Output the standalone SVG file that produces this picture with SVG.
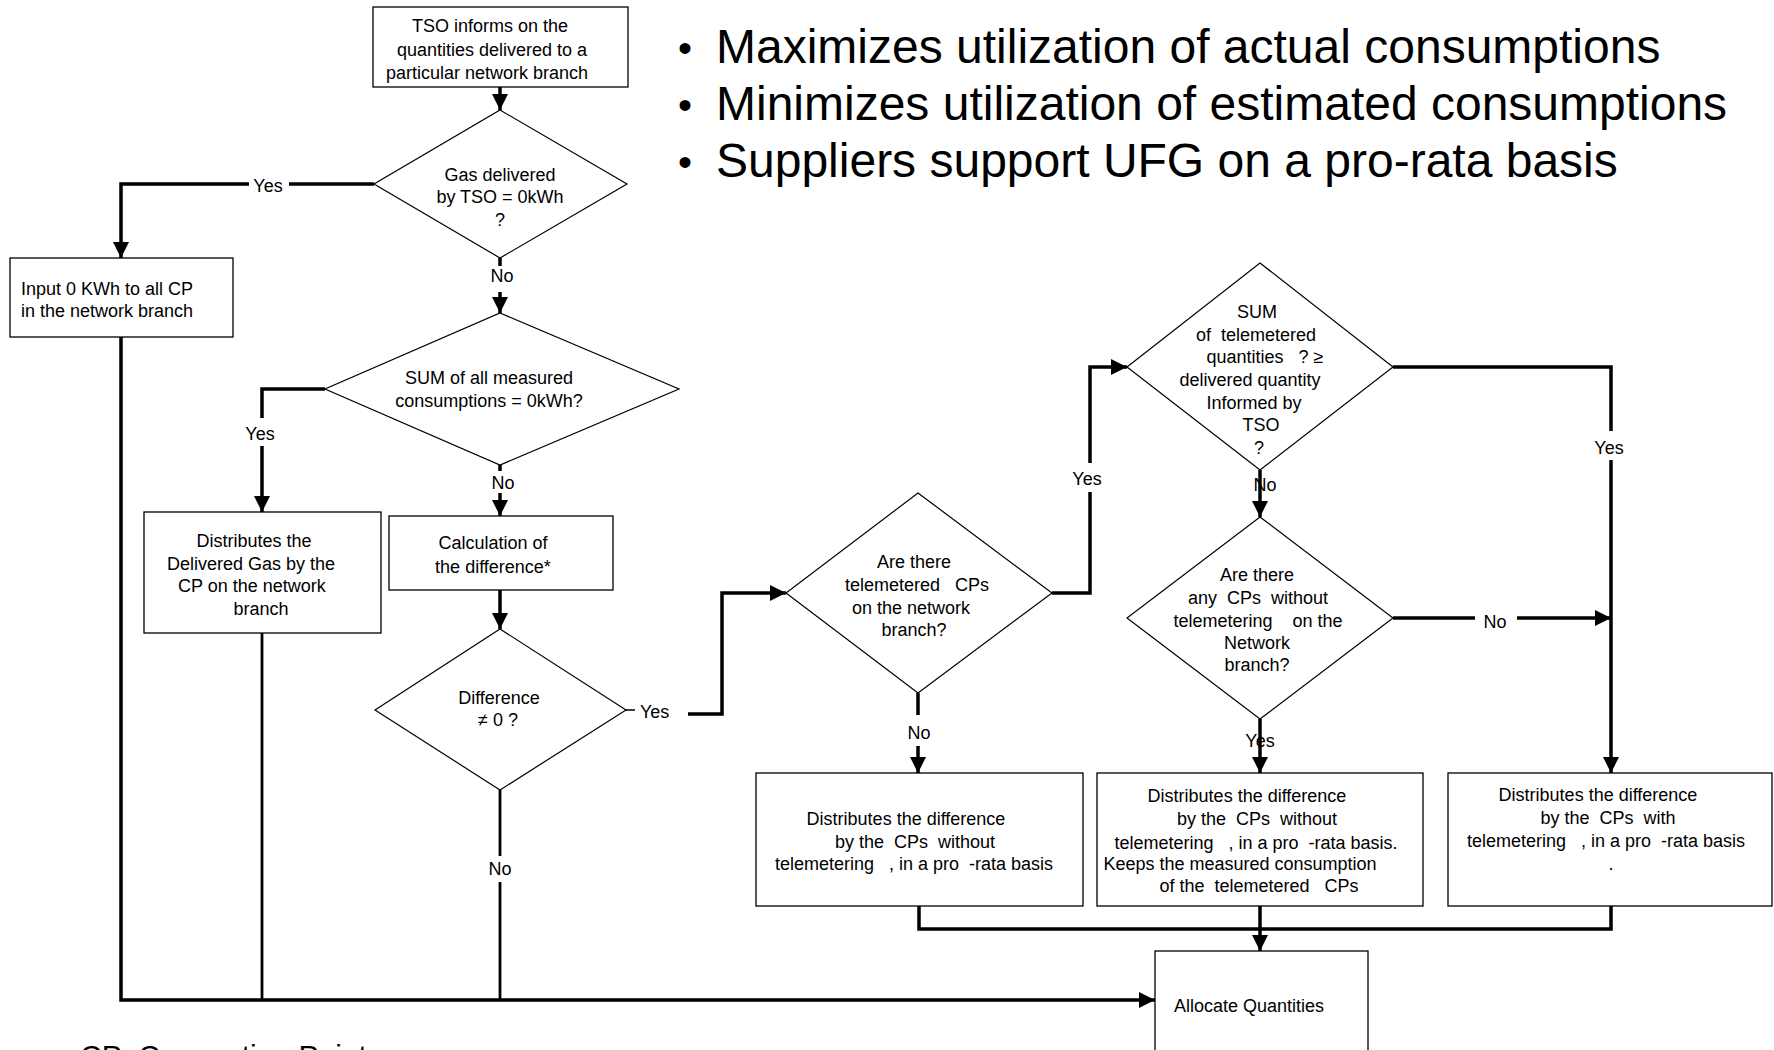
<svg xmlns="http://www.w3.org/2000/svg" width="1774" height="1050" viewBox="0 0 1774 1050">
<defs>
<style>
.box{fill:#fff;stroke:#000;stroke-width:1.3}
.dia{fill:#fff;stroke:#000;stroke-width:1.2}
.t{font-family:"Liberation Sans",Arial,sans-serif;font-size:18px;fill:#000;white-space:pre;text-anchor:middle}
.s{text-anchor:start}
.big{font-family:"Liberation Sans",Arial,sans-serif;font-size:48px;fill:#000}
.c{fill:none;stroke:#000;stroke-width:3.5}
.m{fill:none;stroke:#000;stroke-width:2.8}
.thin{fill:none;stroke:#000;stroke-width:1.5}
</style>
<marker id="ah" viewBox="0 0 16 16" refX="16" refY="8" markerWidth="16" markerHeight="16" markerUnits="userSpaceOnUse" orient="auto"><path d="M0,0 L16,8 L0,16 z" fill="#000"/></marker>
</defs>
<rect width="1774" height="1050" fill="#fff"/>

<g id="connectors">
<path class="c" d="M500,87 V110" marker-end="url(#ah)"/>
<path class="c" d="M374,184 H289"/>
<path class="c" d="M249,184 H121 V258" marker-end="url(#ah)"/>
<path class="c" d="M500,258 V266"/>
<path class="c" d="M500,292 V313" marker-end="url(#ah)"/>
<path class="c" d="M121,337 V1000 H1155" marker-end="url(#ah)"/>
<path class="c" d="M325,389 H262 V418"/>
<path class="c" d="M262,446 V512" marker-end="url(#ah)"/>
<path class="c" d="M500,465 V471"/>
<path class="c" d="M500,493 V516" marker-end="url(#ah)"/>
<path class="m" d="M262,633 V1000"/>
<path class="c" d="M500,590 V629" marker-end="url(#ah)"/>
<path class="thin" d="M626,710 H635"/>
<path class="c" d="M688,714 H722 V593 H786" marker-end="url(#ah)"/>
<path class="m" d="M500,790 V856"/>
<path class="m" d="M500,882 V1000"/>
<path class="c" d="M1052,593 H1090 V492"/>
<path class="c" d="M1090,463 V367 H1127" marker-end="url(#ah)"/>
<path class="c" d="M918,693 V715"/>
<path class="c" d="M918,746 V773" marker-end="url(#ah)"/>
<path class="c" d="M1260,470 V517" marker-end="url(#ah)"/>
<path class="c" d="M1393,367 H1611 V431"/>
<path class="c" d="M1611,460 V773" marker-end="url(#ah)"/>
<path class="c" d="M1393,618 H1475"/>
<path class="c" d="M1517,618 H1611" marker-end="url(#ah)"/>
<path class="c" d="M1260,719 V773" marker-end="url(#ah)"/>
<path class="c" d="M919,906 V929 H1611 V906"/>
<path class="c" d="M1260,906 V951" marker-end="url(#ah)"/>
<text class="t" x="268" y="192">Yes</text>
<text class="t" x="502" y="282">No</text>
<text class="t" x="260" y="440">Yes</text>
<text class="t" x="503" y="489">No</text>
<text class="t s" x="640" y="718">Yes</text>
<text class="t" x="500" y="875">No</text>
<text class="t" x="1087" y="485">Yes</text>
<text class="t" x="919" y="739">No</text>
<text class="t" x="1265" y="491">No</text>
<text class="t" x="1609" y="454">Yes</text>
<text class="t" x="1495" y="628">No</text>
<text class="t" x="1260" y="747">Yes</text>
</g>

<g id="n-tso">
<rect class="box" x="373" y="7" width="255" height="80"/>
<text class="t" x="490" y="32">TSO informs on the</text>
<text class="t" x="492" y="56">quantities delivered to a</text>
<text class="t" x="487" y="79">particular network branch</text>
</g>

<g id="n-gas">
<polygon class="dia" points="500,110 627,184 500,258 374,184"/>
<text class="t" x="500" y="181">Gas delivered</text>
<text class="t" x="500" y="203">by TSO = 0kWh</text>
<text class="t" x="500" y="226">?</text>
</g>

<g id="n-input">
<rect class="box" x="10" y="258" width="223" height="79"/>
<text class="t s" x="21" y="295">Input 0 KWh to all CP</text>
<text class="t s" x="21" y="317">in the network branch</text>
</g>

<g id="n-sum">
<polygon class="dia" points="500,313 679,389 500,465 325,389"/>
<text class="t" x="489" y="384">SUM of all measured</text>
<text class="t" x="489" y="407">consumptions = 0kWh?</text>
</g>

<g id="n-distgas">
<rect class="box" x="144" y="512" width="237" height="121"/>
<text class="t" x="254" y="547">Distributes the</text>
<text class="t" x="251" y="570">Delivered Gas by the</text>
<text class="t" x="252" y="592">CP on the network</text>
<text class="t" x="261" y="615">branch</text>
</g>

<g id="n-calc">
<rect class="box" x="389" y="516" width="224" height="74"/>
<text class="t" x="493" y="549">Calculation of</text>
<text class="t" x="493" y="573">the difference*</text>
</g>

<g id="n-diff">
<polygon class="dia" points="500,629 626,710 500,790 375,710"/>
<text class="t" x="499" y="704">Difference</text>
<text class="t" x="498" y="726">≠ 0 ?</text>
</g>

<g id="n-telem">
<polygon class="dia" points="918,493 1052,593 918,693 786,593"/>
<text class="t" x="914" y="568">Are there</text>
<text class="t" x="917" y="591">telemetered   CPs</text>
<text class="t" x="911" y="614">on the network</text>
<text class="t" x="914" y="636">branch?</text>
</g>

<g id="n-sum2">
<polygon class="dia" points="1260,263 1393,367 1260,470 1127,367"/>
<text class="t" x="1257" y="318">SUM</text>
<text class="t" x="1256" y="341">of  telemetered</text>
<text class="t" x="1265" y="363">quantities   ? ≥</text>
<text class="t" x="1250" y="386">delivered quantity</text>
<text class="t" x="1254" y="409">Informed by</text>
<text class="t" x="1261" y="431">TSO</text>
<text class="t" x="1259" y="454">?</text>
</g>

<g id="n-without">
<polygon class="dia" points="1260,517 1393,618 1260,719 1127,618"/>
<text class="t" x="1257" y="581">Are there</text>
<text class="t" x="1258" y="604">any  CPs  without</text>
<text class="t" x="1258" y="627">telemetering    on the</text>
<text class="t" x="1257" y="649">Network</text>
<text class="t" x="1257" y="671">branch?</text>
</g>

<g id="n-boxa">
<rect class="box" x="756" y="773" width="327" height="133"/>
<text class="t" x="906" y="825">Distributes the difference</text>
<text class="t" x="915" y="848">by the  CPs  without</text>
<text class="t" x="914" y="870">telemetering   , in a pro  -rata basis</text>
</g>

<g id="n-boxb">
<rect class="box" x="1097" y="773" width="326" height="133"/>
<text class="t" x="1247" y="802">Distributes the difference</text>
<text class="t" x="1257" y="825">by the  CPs  without</text>
<text class="t" x="1256" y="849">telemetering   , in a pro  -rata basis.</text>
<text class="t" x="1240" y="870">Keeps the measured consumption</text>
<text class="t" x="1259" y="892">of the  telemetered   CPs</text>
</g>

<g id="n-boxc">
<rect class="box" x="1448" y="773" width="324" height="133"/>
<text class="t" x="1598" y="801">Distributes the difference</text>
<text class="t" x="1608" y="824">by the  CPs  with</text>
<text class="t" x="1606" y="847">telemetering   , in a pro  -rata basis</text>
<text class="t" x="1611" y="870">.</text>
</g>

<g id="n-allocate">
<rect class="box" x="1155" y="951" width="213" height="110"/>
<text class="t s" x="1174" y="1012">Allocate Quantities</text>
</g>

<g id="bullets">
<text class="big" x="685" y="62" font-size="40" text-anchor="middle" style="font-size:40px">•</text>
<text class="big" x="716" y="63">Maximizes utilization of actual consumptions</text>
<text class="big" x="685" y="119" text-anchor="middle" style="font-size:40px">•</text>
<text class="big" x="716" y="120">Minimizes utilization of estimated consumptions</text>
<text class="big" x="685" y="176" text-anchor="middle" style="font-size:40px">•</text>
<text class="big" x="716" y="177">Suppliers support UFG on a pro-rata basis</text>
</g>

<text class="t s" x="80" y="1066" style="font-size:30px">CP: Connection Point</text>
</svg>
